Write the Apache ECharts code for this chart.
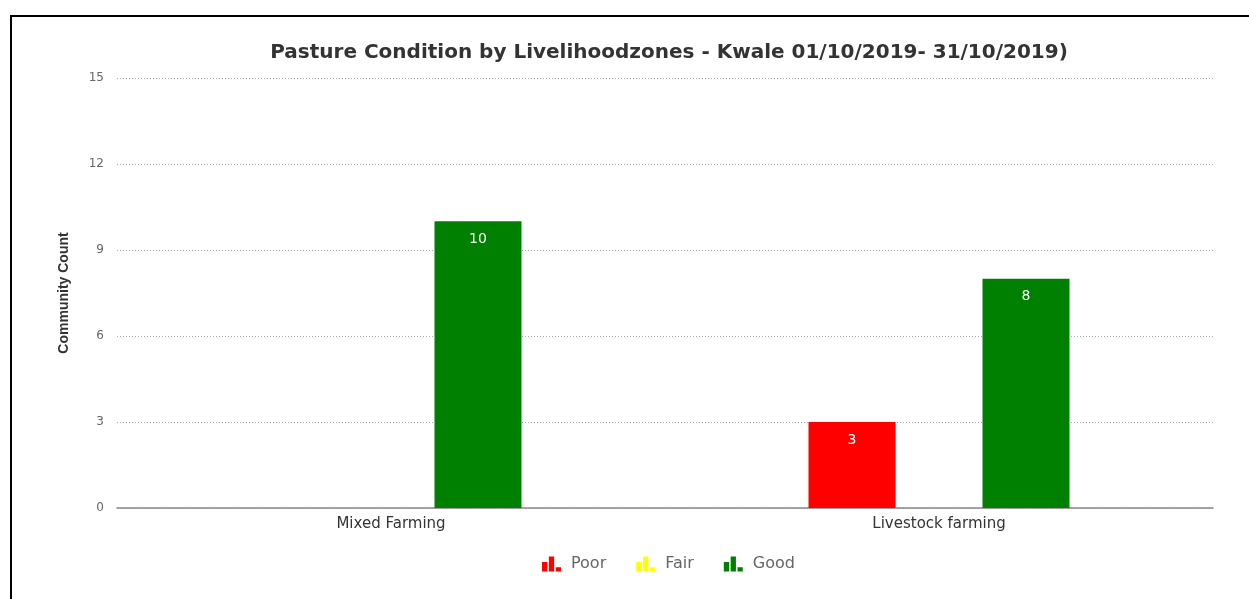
<!DOCTYPE html>
<html>
<head>
<meta charset="utf-8">
<script src="https://cdn.jsdelivr.net/npm/echarts@6/dist/echarts.min.js"></script>
<style>
  html, body { margin: 0; padding: 0; background: #fff; }
  #wrap { position: relative; width: 1249px; height: 599px; overflow: hidden; }
  #frame { position: absolute; left: 10px; top: 15px; width: 1300px; height: 700px;
           border-left: 2px solid #000; border-top: 2px solid #000; box-sizing: border-box; }
  #chart { position: absolute; left: 0; top: 0; width: 1249px; height: 599px; }
</style>
</head>
<body>
<div id="wrap">
  <div id="frame"></div>
  <div id="chart"></div>
</div>
<script>
// Livelihood zones and community counts per pasture condition
const zones = ['Mixed Farming', 'Livestock farming'];
const poor = [null, 3];
const fair = [null, null];
const good = [10, 8];
const yTicks = [0, 3, 6, 9, 12, 15];

const FONT = 'DejaVu Sans, Verdana, sans-serif';
// small bar-chart glyph used for the legend markers
const barIcon = 'path://M0,5h5v9h-5z M6.5,0h5v14h-5z M13,10h5v4h-5z';

const chart = echarts.init(document.getElementById('chart'), null, { renderer: 'canvas' });

function barSeries(name, data, color) {
  return {
    name: name,
    type: 'bar',
    data: data,
    barWidth: 87,
    barGap: '0%',
    itemStyle: { color: color },
    label: {
      show: true,
      position: 'insideTop',
      distance: 11,
      color: '#fff',
      fontSize: 14,
      fontFamily: FONT
    }
  };
}

chart.setOption({
  animation: false,
  backgroundColor: 'transparent',
  title: {
    text: 'Pasture Condition by Livelihoodzones - Kwale 01/10/2019- 31/10/2019)',
    left: 664,
    textAlign: 'center',
    top: 38,
    textStyle: {
      fontSize: 20,
      fontWeight: 'bold',
      color: '#333',
      fontFamily: FONT
    }
  },
  legend: {
    bottom: 22,
    left: 537,
    itemWidth: 19,
    itemHeight: 15,
    itemGap: 30,
    icon: barIcon,
    textStyle: { fontSize: 16, color: '#666', fontFamily: FONT, padding: [0, 0, 0, 5] },
    data: ['Poor', 'Fair', 'Good']
  },
  grid: { left: 117, right: 36, top: 78, bottom: 91 },
  xAxis: {
    type: 'category',
    data: zones,
    axisTick: { show: false },
    axisLine: { lineStyle: { color: '#888', width: 1.5 } },
    axisLabel: { color: '#333', fontSize: 15, margin: 9, fontFamily: FONT }
  },
  yAxis: {
    type: 'value',
    min: yTicks[0],
    max: yTicks[yTicks.length - 1],
    interval: yTicks[1] - yTicks[0],
    name: 'Community Count',
    nameLocation: 'middle',
    nameGap: 46,
    nameTextStyle: { fontSize: 14, fontWeight: 'bold', color: '#333', fontFamily: 'Liberation Sans, Arial, sans-serif' },
    axisLabel: { color: '#666', fontSize: 12, margin: 13, fontFamily: FONT },
    splitLine: { lineStyle: { color: '#aaa', type: [1, 2], width: 1 } }
  },
  series: [
    barSeries('Poor', poor, '#ff0000'),
    barSeries('Fair', fair, '#ffff00'),
    barSeries('Good', good, '#008000')
  ]
});
</script>
</body>
</html>
